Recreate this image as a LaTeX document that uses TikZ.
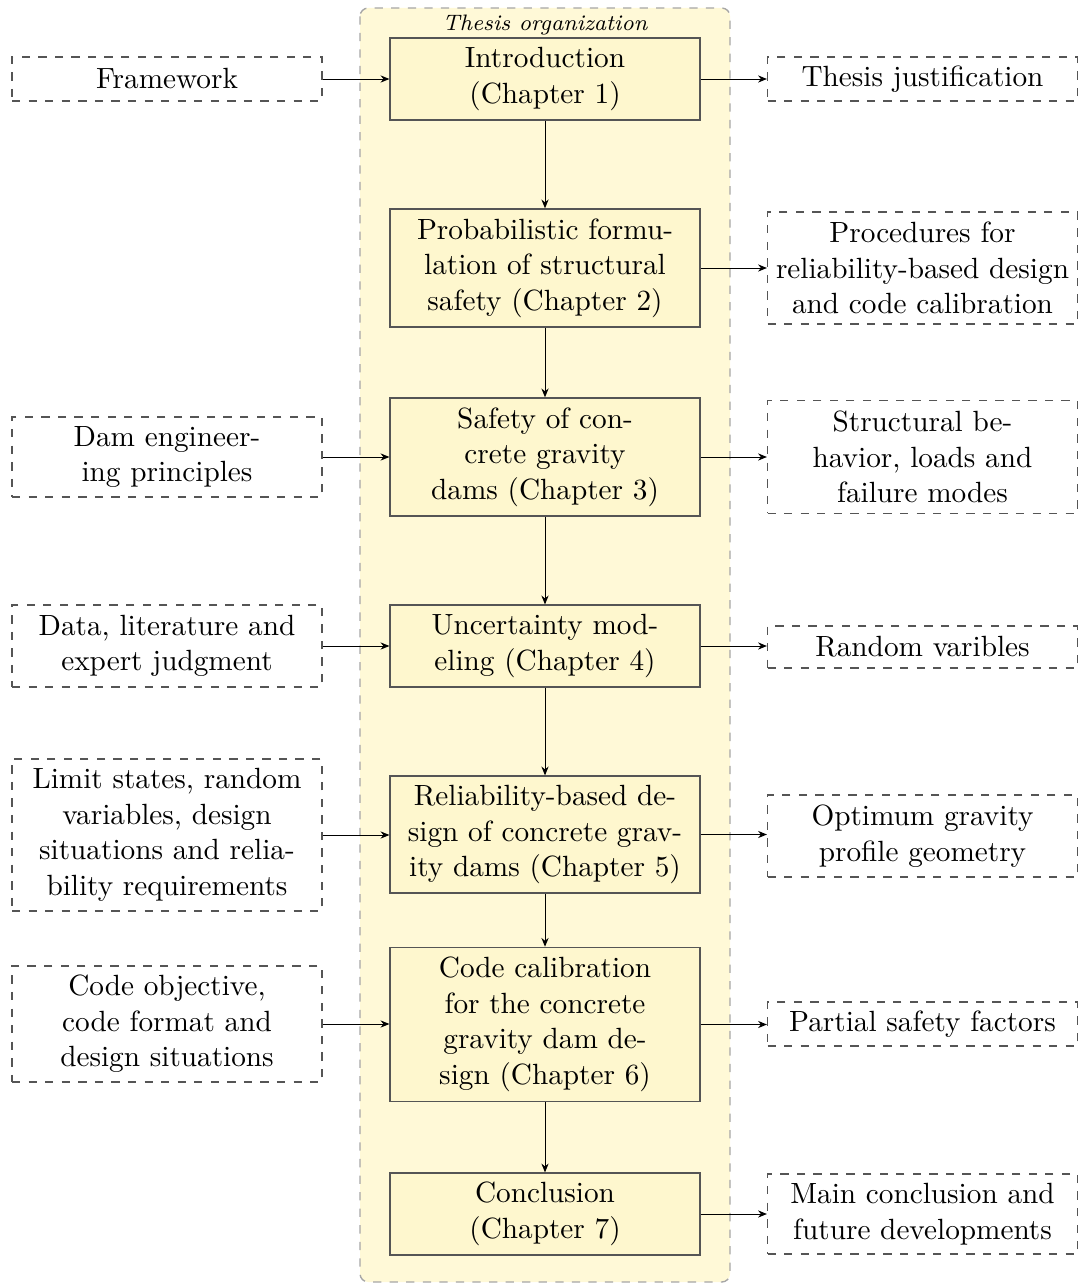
\documentclass[tikz,border=0pt]{standalone}
\usetikzlibrary{arrows.meta,backgrounds}
\definecolor{panelfill}{RGB}{255,249,215}
\definecolor{boxfill}{RGB}{254,247,206}
\definecolor{edgegray}{RGB}{85,85,85}
\newcommand{\boxfont}{\fontsize{10.6}{12.9}\selectfont}
\begin{document}
\begin{tikzpicture}[x=0.3623pt, y=-0.3623pt,
  chapbox/.style={draw=edgegray, line width=0.45pt, fill=boxfill, minimum width=112.3pt,
    align=center, inner sep=0pt, font=\boxfont},
  sidebox/.style={draw=edgegray, dashed, line width=0.45pt, minimum width=112.3pt,
    align=center, inner sep=0pt, font=\boxfont},
  link/.style={-{Stealth[length=3.2pt,width=2.6pt]}, line width=0.35pt, black}]
\useasboundingbox (0,0) rectangle (1079,1284);

% panel holding the chapters
\draw[gray!70, dashed, line width=0.5pt, fill=panelfill, rounded corners=3pt]
  (360,8) rectangle (730,1282);
\node[font=\fontsize{8.1}{10}\selectfont\itshape] (title) at (545,25) {Thesis organization};

% chapters
\node[chapbox, minimum height=29.7pt] (c1) at (545,79) {Introduction\\(Chapter 1)};
\node[chapbox, minimum height=42.8pt] (c2) at (545,268) {Probabilistic formu-\\lation of structural\\safety (Chapter 2)};
\node[chapbox, minimum height=42.8pt] (c3) at (545,457) {Safety of con-\\crete gravity\\dams (Chapter 3)};
\node[chapbox, minimum height=29.7pt] (c4) at (545,646) {Uncertainty mod-\\eling (Chapter 4)};
\node[chapbox, minimum height=42.4pt] (c5) at (545,834.5) {Reliability-based de-\\sign of concrete grav-\\ity dams (Chapter 5)};
\node[chapbox, minimum height=55.9pt] (c6) at (545,1024.5) {Code calibration\\for the concrete\\gravity dam de-\\sign (Chapter 6)};
\node[chapbox, minimum height=29.7pt] (c7) at (545,1214) {Conclusion\\(Chapter 7)};

% inputs
\node[sidebox, minimum height=15.9pt] (i1) at (167,79) {Framework};
\node[sidebox, minimum height=29pt] (i3) at (167,457) {Dam engineer-\\ing principles};
\node[sidebox, minimum height=29.7pt] (i4) at (167,646) {Data, literature and\\expert judgment};
\node[sidebox, minimum height=55.1pt] (i5) at (167,835) {Limit states, random\\variables, design\\situations and relia-\\bility requirements};
\node[sidebox, minimum height=42pt] (i6) at (167,1024) {Code objective,\\code format and\\design situations};

% outputs
\node[sidebox, minimum height=15.9pt] (o1) at (922.5,79) {Thesis justification};
\node[sidebox, minimum height=40.6pt] (o2) at (922.5,268) {Procedures for\\reliability-based design\\and code calibration};
\node[sidebox, minimum height=40.9pt] (o3) at (922.5,457) {Structural be-\\havior, loads and\\failure modes};
\node[sidebox, minimum height=15.2pt] (o4) at (922.5,647) {Random varibles};
\node[sidebox, minimum height=29.7pt] (o5) at (922.5,836) {Optimum gravity\\profile geometry};
\node[sidebox, minimum height=15.9pt] (o6) at (922.5,1024) {Partial safety factors};
\node[sidebox, minimum height=29pt] (o7) at (922.5,1214) {Main conclusion and\\future developments};

% chapter sequence
\foreach \a/\b in {c1/c2,c2/c3,c3/c4,c4/c5,c5/c6,c6/c7}
  \draw[link] (\a) -- (\b);

% inputs into chapters
\foreach \a/\b in {i1/c1,i3/c3,i4/c4,i5/c5,i6/c6}
  \draw[link] (\a.east) -- (\a.east -| \b.west);

% chapters to outputs
\foreach \a/\b in {c1/o1,c2/o2,c3/o3,c4/o4,c5/o5,c6/o6,c7/o7}
  \draw[link] (\a.east) -- (\a.east -| \b.west);
\end{tikzpicture}
\end{document}
